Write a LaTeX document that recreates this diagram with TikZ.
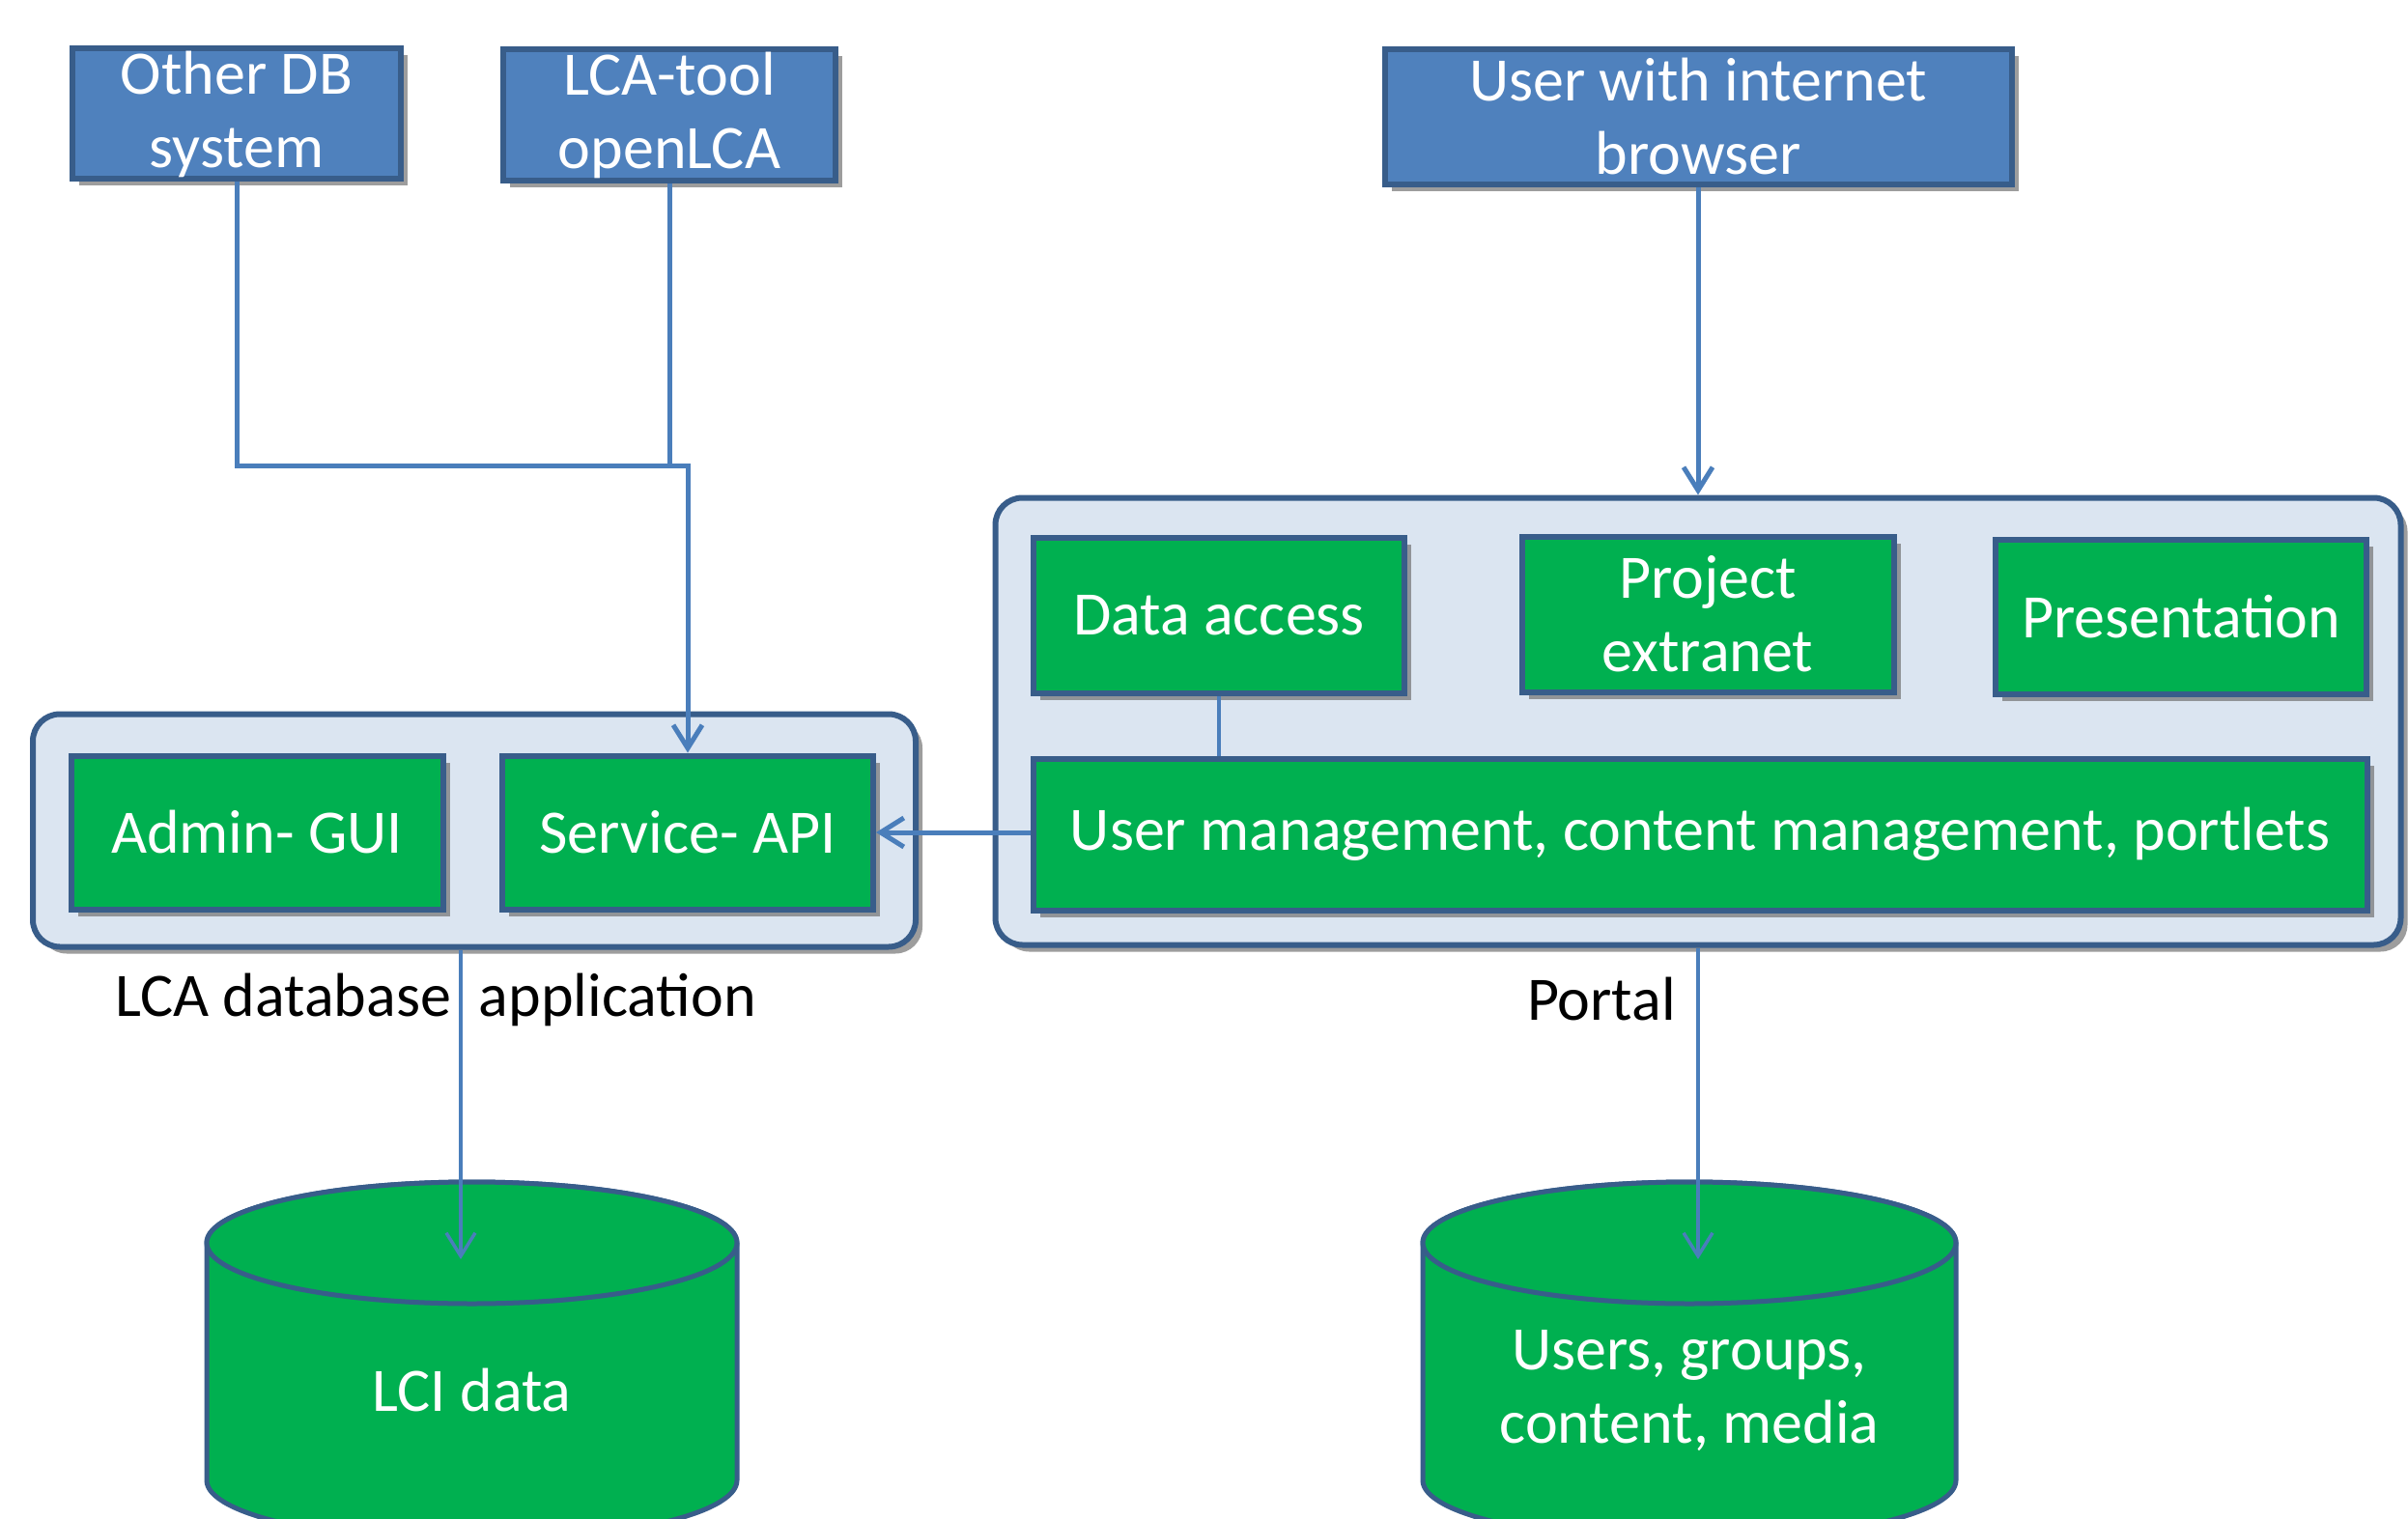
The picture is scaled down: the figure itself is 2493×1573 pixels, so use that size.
\documentclass[tikz,border=0pt]{standalone}
\usepackage{fontspec}
\setmainfont{Carlito}
\usetikzlibrary{arrows.meta,shadows,calc}
\definecolor{boxblue}{HTML}{4F81BD}
\definecolor{edgeblue}{HTML}{385D8A}
\definecolor{boxgreen}{HTML}{00B050}
\definecolor{panelfill}{HTML}{DBE5F1}
\definecolor{linkblue}{HTML}{4A7EBB}
\begin{document}
\begin{tikzpicture}[x=1pt,y=-1pt,
  every node/.style={font=\fontsize{64}{76}\selectfont},
  boxshadow/.style={drop shadow={shadow xshift=7pt,shadow yshift=-7pt,fill=black!55,opacity=0.7}},
  actor/.style={draw=edgeblue,line width=6pt,fill=boxblue,text=white,align=center,inner sep=0pt,boxshadow},
  module/.style={draw=edgeblue,line width=6pt,fill=boxgreen,text=white,align=center,inner sep=0pt,boxshadow},
  panel/.style={draw=edgeblue,line width=6pt,fill=panelfill,rounded corners=28pt,inner sep=0pt,boxshadow},
  store/.style={draw=edgeblue,line width=5pt,fill=boxgreen},
  storetext/.style={text=white,align=center,inner sep=0pt},
  link/.style={draw=linkblue,line width=5pt},
  flow/.style={link,-{Straight Barb[length=24pt,width=30pt]}},
  caption/.style={text=black,inner sep=0pt},
]
\useasboundingbox (0,0) rectangle (2493,1573);
\clip (0,0) rectangle (2493,1573);

% data stores (cylinders)
\path[store] (214,1287) -- (214,1533)
  arc[start angle=180,end angle=360,x radius=274.5pt,y radius=63pt]
  -- (763,1287)
  arc[start angle=0,end angle=180,x radius=274.5pt,y radius=63pt] -- cycle;
\path[store] (488.5,1287) ellipse[x radius=274.5pt,y radius=63pt];
\node[storetext] (lcidata) at (488.5,1440) {LCI data};

\path[store] (1473,1287) -- (1473,1533)
  arc[start angle=180,end angle=360,x radius=276pt,y radius=63pt]
  -- (2025,1287)
  arc[start angle=0,end angle=180,x radius=276pt,y radius=63pt] -- cycle;
\path[store] (1749,1287) ellipse[x radius=276pt,y radius=63pt];
\node[storetext] (userdata) at (1749,1440) {Users, groups,\\content, media};

% external actors
\node[actor,minimum width=340pt,minimum height=135pt] (otherdb) at (245,118) {Other DB\\system};
\node[actor,minimum width=344pt,minimum height=136pt] (lcatool) at (693,119) {LCA-tool\\openLCA};
\node[actor,minimum width=649pt,minimum height=140pt] (browser) at (1758,121) {User with internet\\browser};

% LCA database application
\node[panel,minimum width=914pt,minimum height=241pt] (lcaapp) at (491,860) {};
\node[module,minimum width=385pt,minimum height=159pt] (admin) at (266,862) {Admin- GUI};
\node[module,minimum width=384pt,minimum height=159pt] (service) at (712,862) {Service- API};
\node[caption] (appcap) at (451,1035) {LCA database~~application};

% portal
\node[panel,minimum width=1455pt,minimum height=463pt] (portal) at (1758,747) {};
\node[module,minimum width=384pt,minimum height=161pt] (data) at (1262,637) {Data access};
\node[module,minimum width=385pt,minimum height=161pt] (extranet) at (1768,636) {Project\\extranet};
\node[module,minimum width=384pt,minimum height=160pt] (present) at (2258,639) {Presentation};
\node[module,minimum width=1381pt,minimum height=157pt] (usermgmt) at (1760,864) {User management, content management, portlets};
\node[caption] (portalcap) at (1658,1035) {Portal};

% connectors
\coordinate (join) at (712,482);
\draw[flow] (otherdb.south) |- (join) -- (service.north);
\draw[link] (lcatool.south) -- (lcatool.south |- join);
\draw[flow] (browser.south) -- (portal.north);
\draw[flow] (usermgmt.west |- service.east) -- (service.east);
\draw[link,line width=4pt] (data.south) -- (data.south |- usermgmt.north);

\coordinate (lcitip) at (477,1304);
\coordinate (usertip) at (1758,1304);
\draw[flow,line width=3.5pt] (lcitip |- lcaapp.south) -- (lcitip);
\draw[flow,line width=3.5pt] (portal.south) -- (usertip);
\end{tikzpicture}
\end{document}
